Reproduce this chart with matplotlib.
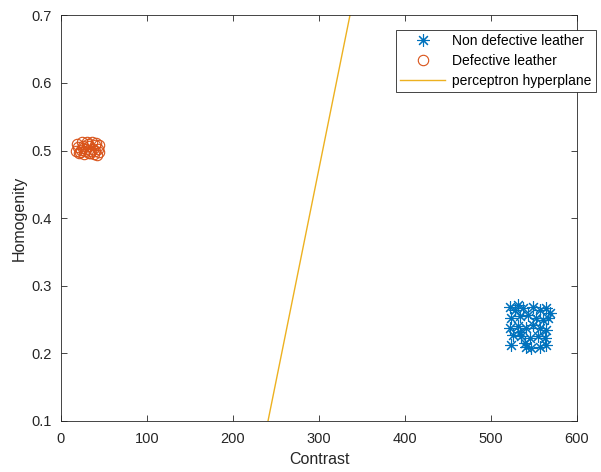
import numpy as np
import matplotlib.pyplot as plt

plt.rcParams['font.family'] = ['Liberation Sans', 'DejaVu Sans']

# non defective leather (contrast, homogenity)
good_x = [521.6, 531.3, 527.4, 537.1, 548.8, 556.6, 564.4, 568.3,
          523.5, 533.3, 543.0, 552.7, 560.5, 566.3, 521.6, 531.3,
          541.1, 548.8, 556.6, 564.4, 525.5, 535.2, 544.9, 554.6,
          562.4, 523.5, 539.1, 546.9, 556.6, 564.4, 541.1, 533.3]
good_y = [0.269, 0.272, 0.264, 0.267, 0.269, 0.264, 0.267, 0.260,
          0.252, 0.255, 0.257, 0.252, 0.250, 0.252, 0.237, 0.240,
          0.237, 0.242, 0.237, 0.235, 0.227, 0.225, 0.223, 0.225,
          0.223, 0.213, 0.215, 0.208, 0.210, 0.213, 0.210, 0.232]

# defective leather
bad_x = [19, 24, 30, 36, 41, 44, 20, 26, 33, 39, 43, 18, 23, 29,
         35, 40, 44, 21, 27, 32, 38, 42, 25, 31, 37, 22, 28, 34]
bad_y = [0.510, 0.512, 0.513, 0.512, 0.511, 0.508, 0.505, 0.507,
         0.506, 0.508, 0.503, 0.500, 0.501, 0.502, 0.500, 0.499,
         0.498, 0.496, 0.495, 0.497, 0.495, 0.494, 0.504, 0.509,
         0.503, 0.498, 0.499, 0.497]

# perceptron hyperplane end points
line_x = [240.7, 336.0]
line_y = [0.1, 0.7]

blue = (0, 0.447, 0.741)
orange = (0.85, 0.325, 0.098)
yellow = (0.929, 0.694, 0.125)

fig = plt.figure(figsize=(6.01, 4.72), dpi=100)
ax = fig.add_axes([61/601, 51/472, 516/601, 405.7/472])

ax.plot(good_x, good_y, linestyle='none', marker=(8, 2, 0), markersize=9,
        markeredgewidth=0.8, color=blue, label='Non defective leather')
ax.plot(bad_x, bad_y, linestyle='none', marker='o', markersize=7.5,
        markerfacecolor='none', markeredgewidth=0.8, color=orange,
        label='Defective leather')
ax.plot(line_x, line_y, color=yellow, linewidth=1,
        label='perceptron hyperplane')

ax.set_xlim(0, 600)
ax.set_ylim(0.1, 0.7)
ax.set_xticks(np.arange(0, 601, 100))
ax.set_yticks(np.arange(0.1, 0.71, 0.1))
ax.tick_params(direction='in', top=True, right=True, labelsize=10.5,
               length=4, width=0.6, colors='#262626')
ax.tick_params(axis='x', pad=8)
ax.tick_params(axis='y', pad=7)
for s in ax.spines.values():
    s.set_linewidth(0.6)
    s.set_color('#262626')
ax.set_xlabel('Contrast', fontsize=11.5, color='#262626', labelpad=4)
ax.set_ylabel('Homogenity', fontsize=11.5, color='#262626', labelpad=3)

leg = ax.legend(loc='upper left', bbox_to_anchor=(0.649, 0.964),
                borderaxespad=0, fontsize=10, fancybox=False,
                edgecolor='#262626', framealpha=1, borderpad=0.3,
                handlelength=3.25, labelspacing=0.42, handletextpad=0.5)
leg.get_frame().set_linewidth(0.6)
leg.set_clip_on(False)

fig.savefig('out.png')
